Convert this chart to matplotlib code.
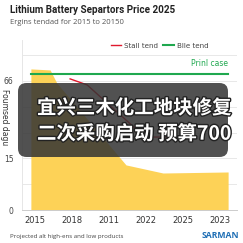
import matplotlib
matplotlib.use("Agg")
import matplotlib.pyplot as plt
from matplotlib.patches import FancyBboxPatch
import matplotlib.patheffects as pe

# ---- data ----
x_labels = ["2015", "2018", "2011", "2022", "2025", "2023"]
y_tick_values = [0, 15, 30, 45, 60, 75, 90]
y_tick_labels = ["0", "", "15", "", "", "66", ""]

area_x = [-0.11, 0.41, 0.59, 2.46, 3.46, 5.22]
area_y = [82.0, 81.4, 73.8, 26.2, 21.5, 22.1]

green_x = [-0.11, 5.22]
green_y = [79.1, 79.1]

red_x = [0.95, 1.41, 2.97, 3.78]
red_y = [76.2, 72.7, 42.4, 42.4]

title = "Lithium Battery Separtors Price 2025"
subtitle = "Ergins tendad for 2015 to 20150"
footer = "Projected alt high-ens and low products"
brand = "SARMAN"
overlay_lines = ["宜兴三木化工地块修复", "二次采购启动 预算700"]

W = H = 243
fig = plt.figure(figsize=(2.43, 2.43), dpi=100)
fig.patch.set_facecolor("white")

def fx(px):
    return px / W

def fy(py):
    return 1 - py / H

ax = fig.add_axes([fx(22), fy(210), fx(237) - fx(22), fy(40) - fy(210)])
ax.set_xlim(-0.35, 5.46)
ax.set_ylim(0, 98.8)

ax.fill_between(area_x, area_y, 0, color="#FDD257", lw=0, zorder=1)
ax.plot(green_x, green_y, color="#1fa84f", lw=1.5, zorder=3, label="Blle tend")
ax.plot(red_x, red_y, color="#e0192d", lw=1.0, zorder=3, label="Stall tend")

ax.set_yticks(y_tick_values)
ax.set_yticklabels(y_tick_labels, fontsize=5.5, color="#444444")
ax.set_xticks(range(len(x_labels)))
ax.set_xticklabels(x_labels, fontsize=6, color="#333333")
ax.tick_params(axis="both", length=0, pad=4)
ax.tick_params(axis="y", pad=6)
ax.grid(axis="y", color="#e8e8e8", lw=0.7, zorder=0)
ax.set_axisbelow(True)
for s in ["top", "right"]:
    ax.spines[s].set_visible(False)
ax.spines["left"].set_color("#e6e6e6")
ax.spines["left"].set_linewidth(0.7)
ax.spines["bottom"].set_color("#cccccc")
ax.spines["bottom"].set_linewidth(0.7)

ax.text(5.22, 82.5, "Prinl case", color="#1fa84f", fontsize=5.5, ha="right", va="bottom")

# legend
h, l = ax.get_legend_handles_labels()
leg = ax.legend([h[1], h[0]], [l[1], l[0]], loc="upper left",
                bbox_to_anchor=((108 - 22) / (237 - 22), 1.0),
                bbox_transform=ax.transAxes, ncol=2, frameon=False, fontsize=5.1,
                handlelength=1.5, handletextpad=0.4, columnspacing=0.7, borderaxespad=0.2,
                borderpad=0.2)
for t in leg.get_texts():
    t.set_color("#444444")

# y label
fig.text(fx(4), fy(117), "Foumsed dagu", rotation=270, fontsize=5.5, color="#333333",
         ha="center", va="center")

# titles
fig.text(fx(10), fy(10), title, fontsize=7.1, fontweight="bold", family="Roboto",
         color="#222222", ha="left", va="center")
fig.text(fx(10), fy(23), subtitle, fontsize=5.5, family="Open Sans", color="#555555",
         ha="left", va="center")
fig.text(fx(10), fy(236), footer, fontsize=4.4, family="Open Sans", color="#444444",
         ha="left", va="center")
fig.text(fx(239), fy(235), brand, fontsize=6.2, fontweight="bold", family="Open Sans",
         color="#1f6fb5", ha="right", va="center")

# overlay
box = FancyBboxPatch((fx(18), fy(157)), fx(228) - fx(18), fy(83) - fy(157),
                     boxstyle="round,pad=0,rounding_size=0.035", transform=fig.transFigure,
                     facecolor="#333333", alpha=0.85, edgecolor="none", zorder=10)
fig.add_artist(box)
for i, line in enumerate(overlay_lines):
    fig.text(fx(37), fy(108 + 26 * i), line, fontsize=14.0, fontweight="bold",
             family=["Noto Sans CJK SC", "DejaVu Sans"], color="white",
             ha="left", va="center", zorder=11,
             path_effects=[pe.withStroke(linewidth=2, foreground="#222222")])

fig.savefig("out.png", dpi=100, facecolor="white")
